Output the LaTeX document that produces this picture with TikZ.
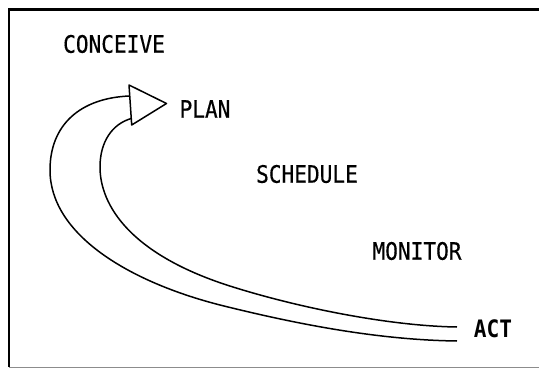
\documentclass[tikz,border=0pt]{standalone}
\usepackage{fontspec}
\newfontfamily\stagefont[FakeStretch=0.88,FakeBold=0.5]{DejaVu Sans Mono}
\newfontfamily\actfont[FakeStretch=0.88]{DejaVu Sans Mono Bold}
\begin{document}
\begin{tikzpicture}[x=1pt,y=-1pt,
  every node/.style={inner sep=0pt,font=\stagefont\fontsize{24}{28}\selectfont},
  flow/.style={line width=1.5pt,line join=round}]
\useasboundingbox (0,0) rectangle (539,369);
% frame
\coordinate (tr) at (539,9.5);
\coordinate (tl) at (9,9.5);
\coordinate (bl) at (9,367);
\coordinate (br) at (539,367);
\draw[line width=2.5pt](tr)--(tl)--(bl);
\draw[line width=1pt,black!45](bl)--(br);
% stages
\node (conceive) at (114,44){CONCEIVE};
\node (plan) at (205,109){PLAN};
\node (schedule) at (307,174){SCHEDULE};
\node (monitor) at (417,251){MONITOR};
\node[font=\actfont\fontsize{24}{28}\selectfont] (act) at (493,329){ACT};
% arrow
\coordinate (headtop) at (129,85);
\coordinate (tip) at (166.5,103.5);
\coordinate (headbot) at (131.7,125);
\coordinate (outstart) at (129.6,96);
\coordinate (outleft) at (50,170);
\coordinate (outmid) at (220,305);
\coordinate (outend) at (457,341);
\coordinate (instart) at (131.3,118.5);
\coordinate (inleft) at (100,167);
\coordinate (inmid) at (233,287);
\coordinate (inend) at (457,327);
\draw[flow](headtop)--(tip)--(headbot)--cycle;
\draw[flow](outstart) .. controls (80,98) and (50,125) .. (outleft)
  .. controls (50,235) and (130,282) .. (outmid)
  .. controls (300,325) and (380,340) .. (outend);
\draw[flow](instart) .. controls (112,124) and (100,142) .. (inleft)
  .. controls (100,205) and (130,255) .. (inmid)
  .. controls (300,308) and (390,326) .. (inend);
\end{tikzpicture}
\end{document}
